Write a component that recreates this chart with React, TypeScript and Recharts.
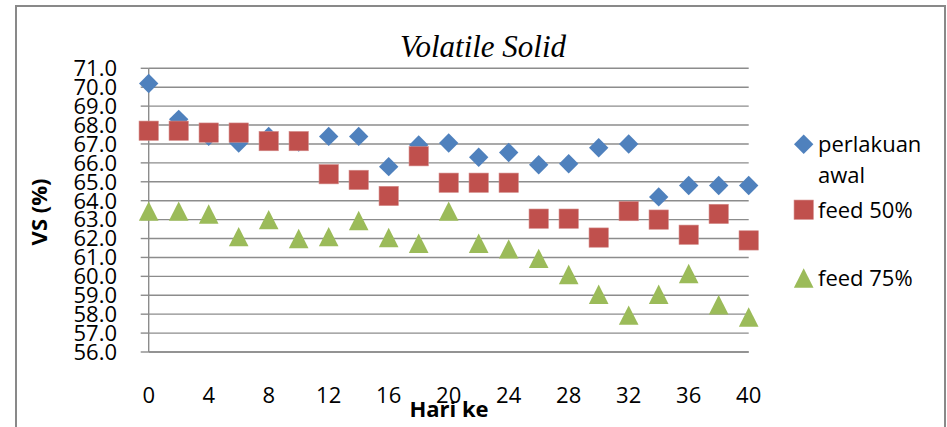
import { ScatterChart, Scatter, XAxis, YAxis, CartesianGrid } from 'recharts';

const days = [0, 2, 4, 6, 8, 10, 12, 14, 16, 18, 20, 22, 24, 26, 28, 30, 32, 34, 36, 38, 40];
const perlakuanAwal = [70.2, 68.3, 67.4, 67.05, 67.4, 67.1, 67.4, 67.4, 65.8, 66.95, 67.05, 66.3, 66.55, 65.9, 65.95, 66.8, 67.0, 64.2, 64.8, 64.8, 64.8];
const feed50 = [67.7, 67.7, 67.6, 67.6, 67.15, 67.15, 65.4, 65.1, 64.25, 66.35, 64.95, 64.95, 64.95, 63.05, 63.05, 62.05, 63.45, 63.0, 62.2, 63.3, 61.9];
const feed75 = [63.45, 63.45, 63.3, 62.1, 63.0, 62.0, 62.1, 62.95, 62.05, 61.75, 63.45, 61.75, 61.45, 60.95, 60.1, 59.05, 57.95, 59.05, 60.15, 58.5, 57.85];

const xTicks = [0, 4, 8, 12, 16, 20, 24, 28, 32, 36, 40];
const yTicks = [56, 57, 58, 59, 60, 61, 62, 63, 64, 65, 66, 67, 68, 69, 70, 71];

const BLUE = '#4F81BD';
const RED = '#C0504D';
const GREEN = '#9BBB59';
const GRID = '#8c8c8c';
const FONT = '"Open Sans", sans-serif';

const toPoints = (values: number[]) => days.map((d, i) => ({ x: d, y: values[i] }));

const Diamond = (props: any) => {
  const { cx, cy, fill } = props;
  const r = 9.7;
  return <polygon points={`${cx},${cy - r} ${cx + r},${cy} ${cx},${cy + r} ${cx - r},${cy}`} fill={fill} />;
};

const Square = (props: any) => {
  const { cx, cy, fill } = props;
  const s = 19.3;
  return <rect x={cx - s / 2} y={cy - s / 2} width={s} height={s} fill={fill} stroke="#d28a88" strokeWidth={0.6} />;
};

const Triangle = (props: any) => {
  const { cx, cy, fill } = props;
  const w = 9.8;
  const h = 9.7;
  return <polygon points={`${cx},${cy - h} ${cx + w},${cy + h} ${cx - w},${cy + h}`} fill={fill} />;
};

export default function App() {
  return (
    <div style={{ position: 'absolute', left: 0, top: 0, width: 947, height: 427, background: '#fff' }}>
      <ScatterChart width={947} height={427} margin={{ top: 68.3, right: 198.3, bottom: 0, left: 0 }}>
        <CartesianGrid vertical={false} stroke={GRID} strokeWidth={1.4} />
        <XAxis
          type="number"
          dataKey="x"
          domain={[0, 40]}
          ticks={xTicks}
          interval={0}
          height={75}
          tickSize={0}
          tickMargin={35}
          tickLine={false}
          axisLine={{ stroke: GRID, strokeWidth: 1.4 }}
          tick={{ fontSize: 22, fill: '#000', fontFamily: FONT }}
        />
        <YAxis
          type="number"
          dataKey="y"
          domain={[56, 71]}
          ticks={yTicks}
          interval={0}
          width={148.7}
          tickSize={8}
          tickMargin={23.7}
          tickLine={{ stroke: GRID, strokeWidth: 1.4 }}
          axisLine={{ stroke: GRID, strokeWidth: 1.4 }}
          tickFormatter={(v: number) => v.toFixed(1)}
          tick={{ fontSize: 22, fill: '#000', fontFamily: FONT }}
        />
        <Scatter name="perlakuan awal" data={toPoints(perlakuanAwal)} fill={BLUE} shape={Diamond} isAnimationActive={false} />
        <Scatter name="feed 50%" data={toPoints(feed50)} fill={RED} shape={Square} isAnimationActive={false} />
        <Scatter name="feed 75%" data={toPoints(feed75)} fill={GREEN} shape={Triangle} isAnimationActive={false} />
      </ScatterChart>
      <svg width={947} height={427} style={{ position: 'absolute', left: 0, top: 0, pointerEvents: 'none' }}>
        <rect x={16} y={6} width={929} height={440} fill="none" stroke="#898989" strokeWidth={2} />
        <text x={483} y={57} textAnchor="middle" fontFamily='"Liberation Serif", serif' fontStyle="italic" fontSize={31} fill="#000">
          Volatile Solid
        </text>
        <text x={449} y={417} textAnchor="middle" fontFamily={FONT} fontWeight="bold" fontSize={22} fill="#000">
          Hari ke
        </text>
        <text transform="translate(46.7,212) rotate(-90)" textAnchor="middle" fontFamily={FONT} fontWeight="bold" fontSize={22} fill="#000">
          VS (%)
        </text>
        <Diamond cx={803.7} cy={144.3} fill={BLUE} />
        <text x={818} y={152} fontFamily={FONT} fontSize={22} fill="#000">perlakuan</text>
        <text x={818} y={183} fontFamily={FONT} fontSize={22} fill="#000">awal</text>
        <Square cx={803.7} cy={209.7} fill={RED} />
        <text x={818} y={218} fontFamily={FONT} fontSize={22} fill="#000">feed 50%</text>
        <Triangle cx={803.7} cy={278} fill={GREEN} />
        <text x={818} y={286} fontFamily={FONT} fontSize={22} fill="#000">feed 75%</text>
      </svg>
    </div>
  );
}
